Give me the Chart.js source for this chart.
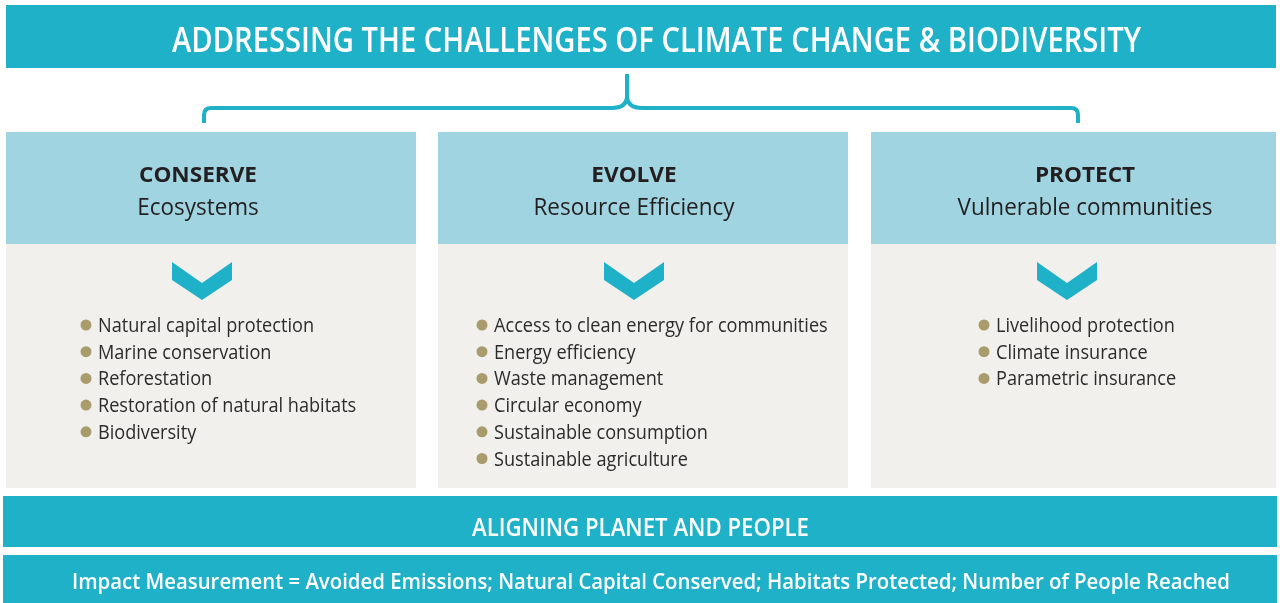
<!DOCTYPE html>
<html>
<head>
<meta charset="utf-8">
<script src="https://cdn.jsdelivr.net/npm/chart.js@4.4.0/dist/chart.umd.min.js"></script>
<style>
    html, body { margin: 0; padding: 0; background: #ffffff; }
    .chart-container { position: relative; width: 1280px; height: 603px; }
</style>
</head>
<body>
<div class="chart-container"><canvas id="myChart"></canvas></div>
<script>
// texts of the diagram
const headerTitle = "ADDRESSING THE CHALLENGES OF CLIMATE CHANGE & BIODIVERSITY"
const pillars = ["CONSERVE", "EVOLVE", "PROTECT"]
const pillarSubtitles = ["Ecosystems", "Resource Efficiency", "Vulnerable communities"]
const conserveItems = ["Natural capital protection", "Marine conservation", "Reforestation", "Restoration of natural habitats", "Biodiversity"]
const evolveItems = ["Access to clean energy for communities", "Energy efficiency", "Waste management", "Circular economy", "Sustainable consumption", "Sustainable agriculture"]
const protectItems = ["Livelihood protection", "Climate insurance", "Parametric insurance"]
const bandTitle = "ALIGNING PLANET AND PEOPLE"
const impactLine = "Impact Measurement = Avoided Emissions; Natural Capital Conserved; Habitats Protected; Number of People Reached"

const pillarItems = [conserveItems, evolveItems, protectItems]

// layout (in the 1280 x 603 value space of the hidden scales)
const columns = [[6, 416], [438, 848], [871, 1276]]
const textCenters = [198, 634, 1085]
const chevronCenters = [202, 634, 1067]
const bulletX = [86, 482, 984]
const firstRowY = 325
const rowGap = 26.7

const teal = '#1fb1c8'
const lightBlue = '#9fd4e0'
const beige = '#f1f0ec'
const tan = '#a99b6b'
const dark = '#231f20'

function bulletPoints() {
    let points = []
    for (let i = 0; i < pillarItems.length; i++) {
        for (let j = 0; j < pillarItems[i].length; j++) {
            points.push({ x: bulletX[i], y: firstRowY + j * rowGap, label: pillarItems[i][j] })
        }
    }
    return points
}

function fitText(ctx, text, x, y, width, align) {
    // squeeze text horizontally so it fills the given width
    const w = ctx.measureText(text).width
    scaledText(ctx, text, x, y, width / w, align)
}

function scaledText(ctx, text, x, y, s, align) {
    ctx.save()
    ctx.translate(x, y)
    ctx.scale(s, 1)
    ctx.textAlign = align
    ctx.fillText(text, 0, 0)
    ctx.restore()
}

const diagramPlugin = {
    id: 'diagram',
    beforeDatasetsDraw(chart) {
        const ctx = chart.ctx
        const px = v => chart.scales.x.getPixelForValue(v)
        const py = v => chart.scales.y.getPixelForValue(v)
        const rect = (x0, y0, x1, y1, color) => {
            ctx.fillStyle = color
            ctx.fillRect(px(x0), py(y0), px(x1) - px(x0), py(y1) - py(y0))
        }
        ctx.save()
        rect(6, 5, 1276, 68, teal)
        rect(3, 496, 1277, 547, teal)
        rect(3, 555, 1277, 603, teal)
        for (let i = 0; i < columns.length; i++) {
            rect(columns[i][0], 132, columns[i][1], 244, lightBlue)
            rect(columns[i][0], 244, columns[i][1], 488, beige)
            // chevron
            const c = chevronCenters[i]
            ctx.fillStyle = teal
            ctx.beginPath()
            ctx.moveTo(px(c - 30), py(262))
            ctx.lineTo(px(c), py(283))
            ctx.lineTo(px(c + 30), py(262))
            ctx.lineTo(px(c + 30), py(280))
            ctx.lineTo(px(c), py(300))
            ctx.lineTo(px(c - 30), py(280))
            ctx.closePath()
            ctx.fill()
        }
        // brace
        ctx.strokeStyle = teal
        ctx.lineWidth = 4
        ctx.lineCap = 'butt'
        ctx.beginPath()
        ctx.moveTo(px(204), py(123))
        ctx.lineTo(px(204), py(115))
        ctx.quadraticCurveTo(px(204), py(108), px(211), py(108))
        ctx.lineTo(px(612), py(108))
        ctx.quadraticCurveTo(px(626), py(108), px(627), py(97))
        ctx.quadraticCurveTo(px(628), py(108), px(642), py(108))
        ctx.lineTo(px(1071), py(108))
        ctx.quadraticCurveTo(px(1078), py(108), px(1078), py(115))
        ctx.lineTo(px(1078), py(123))
        ctx.stroke()
        ctx.beginPath()
        ctx.moveTo(px(627), py(74))
        ctx.lineTo(px(627), py(99))
        ctx.stroke()
        ctx.restore()
    },
    afterDatasetsDraw(chart) {
        const ctx = chart.ctx
        const px = v => chart.scales.x.getPixelForValue(v)
        const py = v => chart.scales.y.getPixelForValue(v)
        ctx.save()
        ctx.textBaseline = 'alphabetic'
        ctx.fillStyle = '#ffffff'
        ctx.font = '600 35px "Open Sans"'
        fitText(ctx, headerTitle, px(656.5), py(52), 969, 'center')
        ctx.font = '600 25px "Open Sans"'
        fitText(ctx, bandTitle, px(640.5), py(536), 337, 'center')
        ctx.font = '600 22px "Open Sans"'
        fitText(ctx, impactLine, px(651), py(589), 1158, 'center')

        ctx.fillStyle = dark
        ctx.font = 'bold 22px "Open Sans"'
        const boldScale = 118 / ctx.measureText(pillars[0]).width
        for (let i = 0; i < pillars.length; i++) {
            scaledText(ctx, pillars[i], px(textCenters[i]), py(182), boldScale, 'center')
        }
        ctx.font = '24px "Open Sans"'
        const subScale = 255 / ctx.measureText(pillarSubtitles[2]).width
        for (let i = 0; i < pillarSubtitles.length; i++) {
            scaledText(ctx, pillarSubtitles[i], px(textCenters[i]), py(215), subScale, 'center')
        }

        ctx.fillStyle = '#2b2b2b'
        ctx.font = '19.5px "Open Sans"'
        const itemScale = 216 / ctx.measureText(conserveItems[0]).width
        const points = chart.data.datasets[0].data
        for (let k = 0; k < points.length; k++) {
            const p = points[k]
            scaledText(ctx, p.label, px(p.x + 12), py(p.y + 7), itemScale, 'left')
        }
        ctx.restore()
    }
}

const chartConfig = {
    type: 'scatter',
    data: {
        datasets: [{
            label: 'bullets',
            data: bulletPoints(),
            pointStyle: 'circle',
            pointRadius: 5.5,
            pointHoverRadius: 5.5,
            backgroundColor: tan,
            borderWidth: 0
        }]
    },
    options: {
        responsive: true,
        maintainAspectRatio: false,
        animation: false,
        layout: { padding: 0, autoPadding: false },
        plugins: {
            legend: { display: false },
            tooltip: { enabled: false }
        },
        scales: {
            x: { type: 'linear', min: 0, max: 1280, display: false },
            y: { type: 'linear', min: 0, max: 603, reverse: true, display: false }
        }
    },
    plugins: [diagramPlugin]
}

const canvas = document.getElementById('myChart').getContext('2d')
const chart = new Chart(canvas, chartConfig)
</script>
</body>
</html>
